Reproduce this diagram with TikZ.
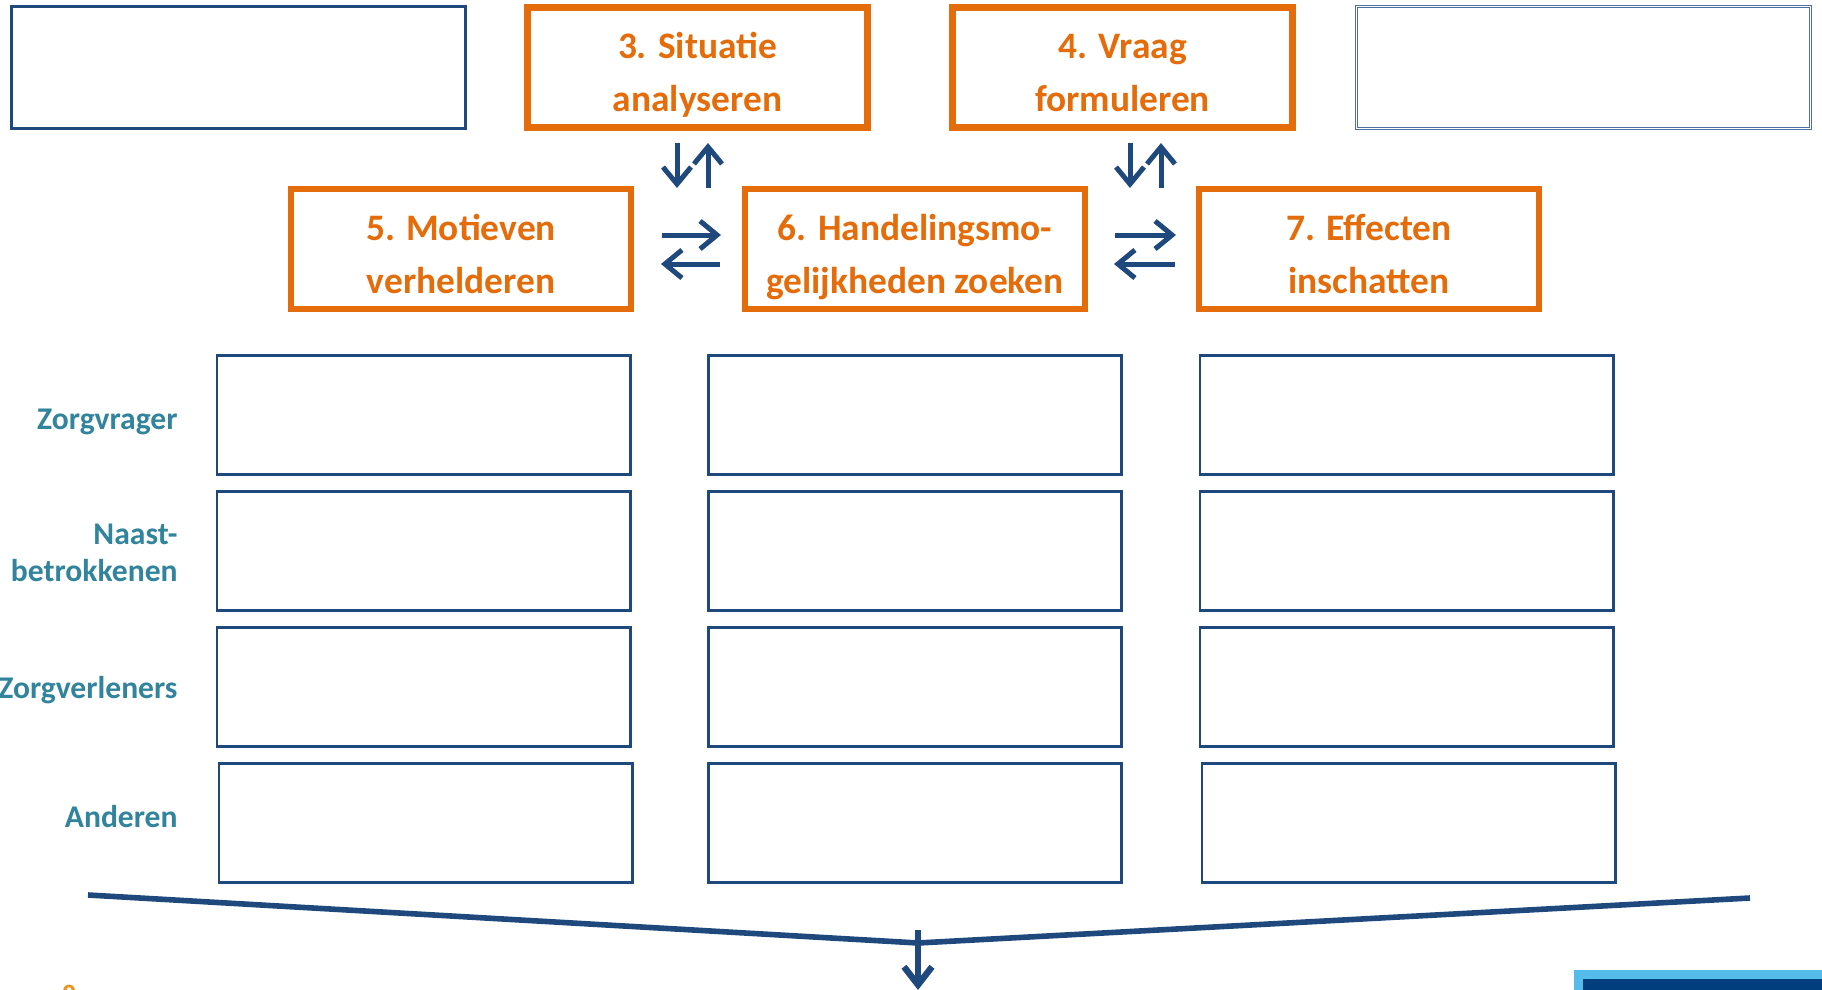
\documentclass[tikz,border=0pt]{standalone}
\usepackage{fontspec}
\setmainfont{Carlito}
\usetikzlibrary{arrows.meta}
\definecolor{oranje}{HTML}{E46C0A}
\definecolor{donkerblauw}{HTML}{1F497D}
\definecolor{grijsblauw}{HTML}{4F6FA0}
\definecolor{petrol}{HTML}{31849B}
\definecolor{lichtblauw}{HTML}{55BBEA}
\definecolor{marine}{HTML}{003E7E}
\definecolor{goud}{HTML}{E8961E}

\begin{document}
\begin{tikzpicture}[x=0.5pt,y=-0.5pt,
    stap/.style={draw=oranje,line width=3.3pt,minimum width=170pt,minimum height=60pt,
      align=center,text=oranje,text height=44pt,text depth=0pt,font=\bfseries\fontsize{18.7}{26.5}\selectfont},
    leeg/.style={draw=donkerblauw,line width=1.4pt,minimum width=227pt,minimum height=61pt},
    vak/.style={draw=donkerblauw,line width=1.4pt,minimum width=206.6pt,minimum height=59.6pt},
    groep/.style={anchor=east,align=right,inner sep=0pt,text=petrol,font=\bfseries\fontsize{15.8}{18.7}\selectfont},
    pijl/.style={donkerblauw,line width=2.5pt,-{Straight Barb[length=8.5pt,width=14pt]}}]
    \useasboundingbox (0,0) rectangle (1822,990);
    % bovenste rij
    \node[leeg] (a) at (238.5, 67.5) {};
    \node[stap] (b) at (697.5, 67.5) {3. Situatie\\analyseren};
    \node[stap] (c) at (1122.5, 67.5) {4. Vraag\\formuleren};
    \node[leeg,draw=grijsblauw,line width=0.6pt,double=white,double distance=0.6pt] (d) at (1583.5, 67.5) {};
    % tweede rij
    \node[stap] (e) at (461, 249) {5. Motieven\\verhelderen};
    \node[stap] (f) at (915, 249) {6. Handelingsmo-\\gelijkheden zoeken};
    \node[stap] (g) at (1369, 249) {7. Effecten\\inschatten};
    % betrokkenen
    \node[groep] (z) at (178, 422) {Zorgvrager};
    \node[groep] (n) at (178, 553) {Naast-\\betrokkenen};
    \node[groep] (v) at (178, 690) {Zorgverleners};
    \node[groep] (o) at (178, 817) {Anderen};
    \node[vak] (z1) at (423.5, 415) {};
    \node[vak] (z2) at (915, 415) {};
    \node[vak] (z3) at (1406.5, 415) {};
    \node[vak] (n1) at (423.5, 551) {};
    \node[vak] (n2) at (915, 551) {};
    \node[vak] (n3) at (1406.5, 551) {};
    \node[vak] (v1) at (423.5, 687) {};
    \node[vak] (v2) at (915, 687) {};
    \node[vak] (v3) at (1406.5, 687) {};
    \node[vak] (o1) at (425.5, 823) {};
    \node[vak] (o2) at (915, 823) {};
    \node[vak] (o3) at (1408.5, 823) {};
    \node[anchor=base west,text=goud,font=\bfseries\fontsize{14}{14}\selectfont] (h) at (55, 1004) {8};
    % pijlpunten
    \coordinate (p1) at (677, 143);
    \coordinate (p2) at (677, 188);
    \coordinate (p3) at (708, 143);
    \coordinate (p4) at (708, 188);
    \coordinate (q1) at (1130, 143);
    \coordinate (q2) at (1130, 188);
    \coordinate (q3) at (1161, 143);
    \coordinate (q4) at (1161, 188);
    \coordinate (r1) at (662, 235);
    \coordinate (r2) at (721, 235);
    \coordinate (r3) at (661, 264);
    \coordinate (r4) at (720, 264);
    \coordinate (s1) at (1115, 235);
    \coordinate (s2) at (1176, 235);
    \coordinate (s3) at (1114, 264);
    \coordinate (s4) at (1175, 264);
    \coordinate (l) at (88, 895);
    \coordinate (m) at (918, 943);
    \coordinate (k) at (1750, 898);
    \coordinate (t) at (918, 930);
    \coordinate (u) at (918, 990);
    \draw [pijl] (p1) to (p2);
    \draw [pijl] (p4) to (p3);
    \draw [pijl] (q1) to (q2);
    \draw [pijl] (q4) to (q3);
    \draw [pijl] (r1) to (r2);
    \draw [pijl] (r4) to (r3);
    \draw [pijl] (s1) to (s2);
    \draw [pijl] (s4) to (s3);
    \draw [donkerblauw,line width=2.8pt] (l) -- (m) -- (k);
    \draw [donkerblauw,line width=3.2pt,-{Straight Barb[length=9pt,width=14pt]}] (t) to (u);
    \fill [lichtblauw] (1574, 970) rectangle (1822, 990);
    \fill [marine] (1583, 979) rectangle (1822, 990);
  \end{tikzpicture}
\end{document}
